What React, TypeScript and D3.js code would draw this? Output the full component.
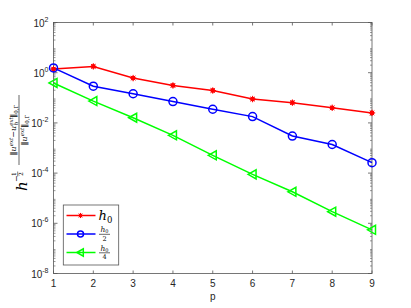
import React from 'react';
import * as d3 from 'd3';

const pValues = [1, 2, 3, 4, 5, 6, 7, 8, 9];
const errH0 = [1.4, 1.78, 0.61, 0.31, 0.195, 0.089, 0.064, 0.04, 0.025];
const errH0Half = [1.55, 0.29, 0.145, 0.071, 0.035, 0.0178, 0.003, 0.00138, 0.00026];
const errH0Quarter = [0.39, 0.074, 0.016, 0.0032, 0.00051, 0.000089, 0.000018, 0.0000029, 0.00000055];
const yExponents = [2, 0, -2, -4, -6, -8];

const width = 411;
const height = 308;
const margin = { left: 53.5, right: 39, top: 22.5, bottom: 34.5 };

const App: React.FC = () => {
    const x = d3.scaleLinear().domain([1, 9]).range([margin.left, width - margin.right]);
    const y = d3.scaleLog().domain([1e-8, 1e2]).range([height - margin.bottom, margin.top]);

    const line = d3.line<number>()
        .x((d, i) => x(pValues[i]))
        .y(d => y(d));

    const axisColor = '#555';
    const font = 'Helvetica, Arial, "Liberation Sans", sans-serif';
    const serif = "'DejaVu Serif', serif";

    // minor log ticks
    const minor: number[] = [];
    for (let e = -8; e < 2; e++) {
        for (let k = 2; k <= 9; k++) minor.push(k * Math.pow(10, e));
    }
    const x0 = margin.left, x1 = width - margin.right;
    const yTop = margin.top, yBot = height - margin.bottom;

    const star = (cx: number, cy: number, key: string, s = 1) => (
        <g key={key} stroke="red" strokeWidth={1}>
            <circle cx={cx} cy={cy} r={2.4 * s} fill="red" stroke="none" />
            <line x1={cx - 3.2 * s} x2={cx + 3.2 * s} y1={cy} y2={cy} />
            <line x1={cx} x2={cx} y1={cy - 3.2 * s} y2={cy + 3.2 * s} />
            <line x1={cx - 2.3 * s} x2={cx + 2.3 * s} y1={cy - 2.3 * s} y2={cy + 2.3 * s} />
            <line x1={cx - 2.3 * s} x2={cx + 2.3 * s} y1={cy + 2.3 * s} y2={cy - 2.3 * s} />
        </g>
    );
    const circ = (cx: number, cy: number, key: string, r = 4) => (
        <circle key={key} cx={cx} cy={cy} r={r} fill="none" stroke="blue" strokeWidth={1.5} />
    );
    const tri = (cx: number, cy: number, key: string, s = 1) => (
        <path key={key} d={`M${cx - 4.5 * s},${cy} L${cx + 3.5 * s},${cy - 4.5 * s} L${cx + 3.5 * s},${cy + 4.5 * s} Z`}
            fill="none" stroke="#00ff00" strokeWidth={1.5} />
    );

    const frac = (lx: number, ly: number, den: string) => (
        <g fontFamily={serif} fill="black">
            <text x={lx + 5.5} y={ly - 1.8} fontSize={7.5} fontStyle="italic" textAnchor="middle">h<tspan fontSize={5} fontStyle="normal" dy={1}>0</tspan></text>
            <line x1={lx} x2={lx + 11} y1={ly + 0.3} y2={ly + 0.3} stroke="black" strokeWidth={0.6} />
            <text x={lx + 5.5} y={ly + 6.8} fontSize={6.5} textAnchor="middle">{den}</text>
        </g>
    );

    const lx = 66.5, lxe = 95.5, lxm = 80.5;
    const ly1 = 215.5, ly2 = 234, ly3 = 252.5;

    return (
        <svg width={width} height={height} style={{ position: 'absolute', left: 0, top: 0, background: 'white' }}>
            {/* axes box */}
            <rect x={x0} y={yTop} width={x1 - x0} height={yBot - yTop} fill="white" stroke={axisColor} strokeWidth={0.8} />
            {/* x ticks */}
            {pValues.map(p => (
                <g key={'xt' + p}>
                    <line x1={x(p)} x2={x(p)} y1={yBot} y2={yBot - 3} stroke={axisColor} strokeWidth={0.8} />
                    <line x1={x(p)} x2={x(p)} y1={yTop} y2={yTop + 3} stroke={axisColor} strokeWidth={0.8} />
                    <text x={x(p)} y={yBot + 13} fontSize={10} fontFamily={font} textAnchor="middle" fill="#262626">{p}</text>
                </g>
            ))}
            {/* y ticks */}
            {yExponents.map(e => (
                <g key={'yt' + e}>
                    <line x1={x0} x2={x0 + 4} y1={y(Math.pow(10, e))} y2={y(Math.pow(10, e))} stroke={axisColor} strokeWidth={0.8} />
                    <line x1={x1} x2={x1 - 4} y1={y(Math.pow(10, e))} y2={y(Math.pow(10, e))} stroke={axisColor} strokeWidth={0.8} />
                    <text x={x0 - 5} y={y(Math.pow(10, e)) + 4} fontSize={10} fontFamily={font} textAnchor="end" fill="#262626">
                        10<tspan fontSize={7} dy={-5}>{e}</tspan>
                    </text>
                </g>
            ))}
            {minor.map((v, i) => (
                <g key={'mn' + i}>
                    <line x1={x0} x2={x0 + 2} y1={y(v)} y2={y(v)} stroke={axisColor} strokeWidth={0.6} />
                    <line x1={x1} x2={x1 - 2} y1={y(v)} y2={y(v)} stroke={axisColor} strokeWidth={0.6} />
                </g>
            ))}
            {/* series */}
            <path d={line(errH0) || ''} fill="none" stroke="red" strokeWidth={1.5} />
            <path d={line(errH0Half) || ''} fill="none" stroke="blue" strokeWidth={1.5} />
            <path d={line(errH0Quarter) || ''} fill="none" stroke="#00ff00" strokeWidth={1.5} />
            {errH0.map((v, i) => star(x(pValues[i]), y(v), 'r' + i))}
            {errH0Half.map((v, i) => circ(x(pValues[i]), y(v), 'b' + i))}
            {errH0Quarter.map((v, i) => tri(x(pValues[i]), y(v), 'g' + i))}
            {/* x label */}
            <text x={(x0 + x1) / 2} y={300} fontSize={10} fontFamily={font} textAnchor="middle" fill="#262626">p</text>
            {/* y label */}
            <g transform={`translate(27,148) rotate(-90)`} fontFamily={serif} fill="black">
                <text x={-43} y={0} fontSize={15} fontStyle="italic">h</text>
                <text x={-34} y={-8} fontSize={8}>−</text>
                <text x={-26} y={-11} fontSize={6} textAnchor="middle">1</text>
                <line x1={-28.5} x2={-23.5} y1={-9.3} y2={-9.3} stroke="black" strokeWidth={0.5} />
                <text x={-26} y={-4} fontSize={6} textAnchor="middle">2</text>
                <text x={18} y={-11} fontSize={8} fontStyle="italic" textAnchor="middle">
                    ‖u<tspan fontSize={5.5} dy={-3}>ext</tspan><tspan dy={3}>−u</tspan><tspan fontSize={5.5} dy={-3}>ext</tspan><tspan fontSize={5.5} dy={5} dx={-8}>h</tspan><tspan dy={-2} dx={4}>‖</tspan><tspan fontSize={5.5} fontStyle="normal" dy={2}>0,Γ</tspan>
                </text>
                <line x1={-17} x2={53} y1={-8} y2={-8} stroke="black" strokeWidth={0.6} />
                <text x={18} y={-0.5} fontSize={8} fontStyle="italic" textAnchor="middle">
                    ‖u<tspan fontSize={5.5} dy={-3}>ext</tspan><tspan dy={3}>‖</tspan><tspan fontSize={5.5} fontStyle="normal" dy={2}>0,Γ</tspan>
                </text>
            </g>
            {/* legend */}
            <rect x={63.3} y={205} width={55.4} height={60} fill="white" stroke={axisColor} strokeWidth={0.8} />
            <line x1={lx} x2={lxe} y1={ly1} y2={ly1} stroke="red" strokeWidth={1.5} />
            {star(lxm, ly1, 'lr', 0.8)}
            <text x={98.5} y={ly1 + 4.5} fontSize={13} fontStyle="italic" fontFamily={serif}>h<tspan fontSize={8.5} fontStyle="normal" dy={3}>0</tspan></text>
            <line x1={lx} x2={lxe} y1={ly2} y2={ly2} stroke="blue" strokeWidth={1.5} />
            {circ(lxm, ly2, 'lb', 3)}
            {frac(99, ly2, '2')}
            <line x1={lx} x2={lxe} y1={ly3} y2={ly3} stroke="#00ff00" strokeWidth={1.5} />
            {tri(lxm, ly3, 'lg', 0.8)}
            {frac(99, ly3, '4')}
        </svg>
    );
};

export default App;
